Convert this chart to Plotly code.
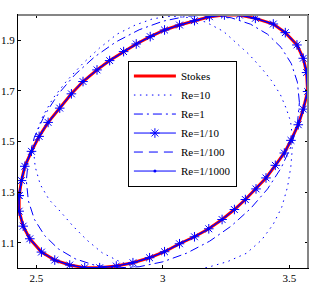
import plotly.graph_objects as go

# ---- data ----
stokes_x = [2.4316, 2.4316, 2.4474, 2.4737, 2.5197, 2.5724, 2.6316, 2.6908, 2.75, 2.8158, 2.8816, 2.9474,
            3.0066, 3.0658, 3.125, 3.1816, 3.2342, 3.2829, 3.3263, 3.3684, 3.4079, 3.4447, 3.4803, 3.5066,
            3.5355, 3.5553, 3.5724, 3.5684, 3.5553, 3.5303, 3.4842, 3.4368, 3.3658, 3.3026, 3.2434, 3.1842,
            3.125, 3.0658, 3.0066, 2.95, 2.8947, 2.8447, 2.7895, 2.7395, 2.6842, 2.6382, 2.5921, 2.5461,
            2.5105, 2.4803, 2.4539, 2.4408, 2.4316]
stokes_y = [1.2863, 1.2246, 1.1654, 1.1155, 1.0629, 1.0314, 1.0117, 1.0012, 1.0012, 1.0077, 1.0209, 1.0406,
            1.0643, 1.0958, 1.1234, 1.1549, 1.1917, 1.2311, 1.2706, 1.3126, 1.356, 1.4059, 1.4545, 1.5045,
            1.5662, 1.628, 1.6976, 1.7725, 1.829, 1.8816, 1.9302, 1.9644, 1.9867, 1.9999, 2.0, 1.9933,
            1.9775, 1.9604, 1.9407, 1.9145, 1.8855, 1.8553, 1.8198, 1.783, 1.737, 1.6884, 1.6319, 1.5754,
            1.5202, 1.4611, 1.402, 1.3455, 1.2863]

re10_x = [3.512, 3.505, 3.488, 3.465, 3.43, 3.39, 3.34, 3.29, 3.24, 3.17, 3.10, 3.03, 2.96, 2.89,
          2.82, 2.75, 2.685, 2.62, 2.565, 2.525, 2.50, 2.488, 2.495, 2.515, 2.55, 2.593, 2.645, 2.70,
          2.76, 2.83, 2.91, 3.00, 3.09, 3.175, 3.255, 3.33, 3.39, 3.436, 3.47, 3.493, 3.506, 3.511, 3.512]
re10_y = [1.52, 1.58, 1.63, 1.685, 1.74, 1.79, 1.845, 1.89, 1.935, 1.972, 1.99, 1.995, 1.985, 1.96,
          1.925, 1.87, 1.81, 1.74, 1.67, 1.60, 1.535, 1.47, 1.40, 1.33, 1.27, 1.225, 1.165, 1.11,
          1.06, 1.025, 0.998, 0.985, 0.988, 1.002, 1.025, 1.058, 1.11, 1.172, 1.24, 1.32, 1.40, 1.46, 1.52]

re1_x = [3.54, 3.532, 3.508, 3.468, 3.414, 3.347, 3.27, 3.185, 3.094, 3.0, 2.906, 2.815, 2.73, 2.653,
         2.586, 2.532, 2.492, 2.468, 2.46, 2.468, 2.492, 2.532, 2.586, 2.653, 2.73, 2.815, 2.906, 3.0,
         3.094, 3.185, 3.27, 3.347, 3.414, 3.468, 3.508, 3.532, 3.54]
re1_y = [1.6545, 1.7345, 1.808, 1.8715, 1.924, 1.9635, 1.989, 1.9995, 1.995, 1.9755, 1.9415, 1.894,
         1.8345, 1.765, 1.6875, 1.604, 1.5175, 1.4305, 1.3455, 1.2655, 1.192, 1.1285, 1.076, 1.0365,
         1.011, 1.0005, 1.005, 1.0245, 1.0585, 1.106, 1.1655, 1.235, 1.3125, 1.396, 1.4825, 1.5695, 1.6545]

re_tenth_x = list(stokes_x)
re_tenth_y = list(stokes_y)
re_hundredth_x = list(stokes_x)
re_hundredth_y = list(stokes_y)
re_thousandth_x = list(stokes_x)
re_thousandth_y = list(stokes_y)

x_ticks = [2.5, 3, 3.5]
x_ticklabels = ["2.5", "3", "3.5"]
y_ticks = [1.1, 1.3, 1.5, 1.7, 1.9]
y_ticklabels = ["1.1", "1.3", "1.5", "1.7", "1.9"]
x_range = [2.427, 3.574]
y_range = [1.0, 2.0]

BLUE = "#0000ff"
FONT = "Liberation Serif"

fig = go.Figure()
fig.add_trace(go.Scatter(x=stokes_x, y=stokes_y, mode="lines", name="Stokes",
                         line=dict(color="#ff0000", width=3)))
fig.add_trace(go.Scatter(x=re10_x, y=re10_y, mode="lines", name="Re=10",
                         line=dict(color=BLUE, width=1, dash="1.5px,4.5px")))
fig.add_trace(go.Scatter(x=re1_x, y=re1_y, mode="lines", name="Re=1",
                         line=dict(color=BLUE, width=1, dash="9px,4px,2px,4px")))
fig.add_trace(go.Scatter(x=re_tenth_x, y=re_tenth_y, mode="lines+markers", name="Re=1/10",
                         line=dict(color=BLUE, width=1),
                         marker=dict(symbol="asterisk-open", size=8, color=BLUE,
                                     line=dict(color=BLUE, width=1))))
fig.add_trace(go.Scatter(x=re_hundredth_x, y=re_hundredth_y, mode="lines", name="Re=1/100",
                         line=dict(color=BLUE, width=1, dash="9px,6px")))
fig.add_trace(go.Scatter(x=re_thousandth_x, y=re_thousandth_y, mode="lines+markers", name="Re=1/1000",
                         line=dict(color=BLUE, width=1),
                         marker=dict(symbol="circle", size=3, color=BLUE)))

axis_common = dict(showgrid=False, zeroline=False, ticks="inside", ticklen=3, tickwidth=1,
                   automargin=False, showline=True, linecolor="black", linewidth=1,
                   tickcolor="black", mirror="ticks",
                   tickfont=dict(family=FONT, size=11, color="black"))

fig.update_layout(
    width=318, height=284,
    margin=dict(l=18, r=10, t=15, b=16),
    paper_bgcolor="white", plot_bgcolor="white",
    font=dict(family=FONT, size=11, color="black"),
    xaxis=dict(range=x_range, tickvals=x_ticks, ticktext=x_ticklabels, **axis_common),
    yaxis=dict(range=y_range, tickvals=y_ticks, ticktext=y_ticklabels, **axis_common),
    shapes=[
        dict(type="line", xref="paper", yref="paper", x0=0, x1=1, y0=1, y1=1,
             line=dict(color="#858585", width=2), layer="above"),
        dict(type="line", xref="paper", yref="paper", x0=1, x1=1, y0=0, y1=1,
             line=dict(color="#858585", width=2), layer="above"),
    ],
    legend=dict(x=0.379, y=0.82, xanchor="left", yanchor="top", bgcolor="white",
                bordercolor="black", borderwidth=1, font=dict(family=FONT, size=11, color="black"),
                itemwidth=42, tracegroupgap=0),
    showlegend=True,
)

fig.write_html("out.html", config={"displayModeBar": False},
               post_script="document.body.style.margin='0';document.body.style.padding='0';")
